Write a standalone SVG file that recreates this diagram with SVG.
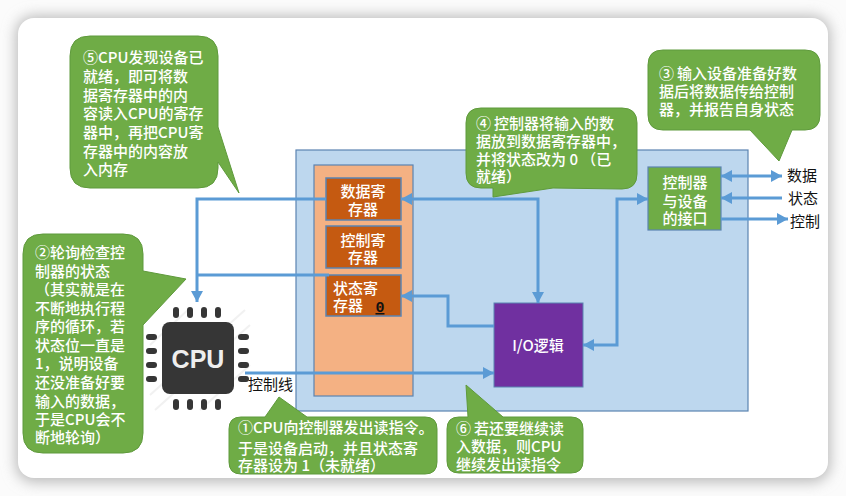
<svg xmlns="http://www.w3.org/2000/svg" width="846" height="496" viewBox="0 0 846 496">
<style>
text{font-family:"Noto Sans CJK SC","Noto Sans",sans-serif;font-size:15px;font-weight:500}
.w{fill:#fff}
.b{fill:#111;font-weight:400}
.m{text-anchor:middle}
.bub{fill:#6FAC46;stroke:#5f9a3c;stroke-width:1}
.box{stroke:#5B84B1;stroke-width:1.2}
.reg{fill:#C55A11;stroke:#5B84B1;stroke-width:1.5}
.con{fill:none;stroke:#5B9BD5;stroke-width:3}
.pin{fill:#363636}
.hatch{stroke:#f1f1f1;stroke-width:2}
</style>
<defs>
<filter id="sh" x="-5%" y="-8%" width="110%" height="116%"><feGaussianBlur stdDeviation="7"/></filter>
<marker id="ah" markerUnits="userSpaceOnUse" markerWidth="13" markerHeight="13" refX="11" refY="6" orient="auto-start-reverse"><path d="M0,0 L11,6 L0,12 Z" fill="#5B9BD5"/></marker>
</defs>
<rect width="846" height="496" fill="#fbfbfb"/>
<rect x="16" y="16" width="814" height="466" rx="18" fill="#b8b8b8" filter="url(#sh)"/>
<rect x="18" y="18" width="810" height="460" rx="16" fill="#fff"/>

<g id="io-module">
<rect class="box" x="296" y="150" width="452" height="261" fill="#BDD7EE"/>
<rect class="box" x="314" y="165" width="99" height="231" fill="#F4B183"/>
</g>

<g id="cpu">
<g class="hatch"><path d="M150,345 L190,308 M150,395 L245,310 M155,410 L250,325 M200,410 L250,365"/></g>
<rect x="162" y="322" width="72" height="72" rx="8" fill="#363636"/>
<g class="pin">
<rect x="173" y="307" width="6" height="11" rx="3"/><rect x="187" y="307" width="6" height="11" rx="3"/><rect x="201" y="307" width="6" height="11" rx="3"/><rect x="215" y="307" width="6" height="11" rx="3"/>
<rect x="173" y="399" width="6" height="11" rx="3"/><rect x="187" y="399" width="6" height="11" rx="3"/><rect x="201" y="399" width="6" height="11" rx="3"/><rect x="215" y="399" width="6" height="11" rx="3"/>
<rect x="146" y="334" width="11" height="6" rx="3"/><rect x="146" y="348" width="11" height="6" rx="3"/><rect x="146" y="362" width="11" height="6" rx="3"/><rect x="146" y="376" width="11" height="6" rx="3"/>
<rect x="238" y="334" width="11" height="6" rx="3"/><rect x="238" y="348" width="11" height="6" rx="3"/><rect x="238" y="362" width="11" height="6" rx="3"/><rect x="238" y="376" width="11" height="6" rx="3"/>
</g>
<text x="198" y="368" class="m" style="font-family:'Liberation Sans',sans-serif;font-size:25px;font-weight:bold" fill="#eee">CPU</text>
</g>

<g id="data-reg"><rect class="reg" x="326" y="178" width="75" height="42"/>
<text class="w m" x="363" y="197">数据寄</text><text class="w m" x="363" y="215">存器</text></g>
<g id="ctrl-reg"><rect class="reg" x="326" y="226" width="75" height="42"/>
<text class="w m" x="363" y="246">控制寄</text><text class="w m" x="363" y="263">存器</text></g>
<g id="status-reg"><rect class="reg" x="326" y="275" width="75" height="41"/>
<text class="w" x="333" y="294">状态寄</text><text class="w" x="333" y="311">存器</text>
<text x="380" y="312" class="m" style="font-family:'Liberation Mono',monospace;font-size:15px;font-weight:bold;text-decoration:underline" fill="#111">0</text></g>
<g id="io-logic"><rect x="494" y="303" width="89" height="84" fill="#7030A0" stroke="#5B84B1"/>
<text class="w m" x="538" y="351">I/O逻辑</text></g>
<g id="interface"><rect class="box" x="648" y="167" width="73" height="63" fill="#6FAC46"/>
<text class="w m" x="685" y="188">控制器</text><text class="w m" x="685" y="207">与设备</text><text class="w m" x="685" y="224">的接口</text></g>

<g id="connectors">
<path class="con" marker-end="url(#ah)" d="M326,199 H197 V302"/>
<path class="con" d="M329,275 H197"/>
<path class="con" marker-end="url(#ah)" d="M245,373 H494"/>
<path class="con" marker-start="url(#ah)" marker-end="url(#ah)" d="M401,199 H538 V303"/>
<path class="con" marker-end="url(#ah)" d="M494,326 H448 V296 H401"/>
<path class="con" marker-start="url(#ah)" marker-end="url(#ah)" d="M583,345 H617 V199 H648"/>
<path class="con" marker-start="url(#ah)" marker-end="url(#ah)" d="M721,176 H782"/>
<path class="con" marker-end="url(#ah)" d="M782,198 H721"/>
<path class="con" marker-end="url(#ah)" d="M721,219 H788"/>
</g>

<g id="labels">
<text class="b" x="787" y="181">数据</text>
<text class="b" x="788" y="204">状态</text>
<text class="b" x="790" y="227">控制</text>
<text class="b" x="248" y="390">控制线</text>
</g>

<g id="note5"><path class="bub" d="M90,36 H198 Q218,36 218,56 V127 L239,193 L218,162 V168 Q218,188 198,188 H90 Q70,188 70,168 V56 Q70,36 90,36 Z"/>
<text class="w" x="83" y="63">⑤CPU发现设备已</text><text class="w" x="83" y="82">就绪，即可将数</text><text class="w" x="83" y="101">据寄存器中的内</text><text class="w" x="83" y="119">容读入CPU的寄存</text><text class="w" x="83" y="138">器中，再把CPU寄</text><text class="w" x="83" y="157">存器中的内容放</text><text class="w" x="83" y="175">入内存</text></g>

<g id="note2"><path class="bub" d="M43,234 H123 Q143,234 143,254 V271 L186,279 L143,325 V433 Q143,453 123,453 H43 Q23,453 23,433 V254 Q23,234 43,234 Z"/>
<text class="w" x="35" y="258">②轮询检查控</text><text class="w" x="35" y="277">制器的状态</text><text class="w" x="35" y="295">（其实就是在</text><text class="w" x="35" y="314">不断地执行程</text><text class="w" x="35" y="332">序的循环，若</text><text class="w" x="35" y="351">状态位一直是</text><text class="w" x="35" y="369">1，说明设备</text><text class="w" x="35" y="388">还没准备好要</text><text class="w" x="35" y="407">输入的数据，</text><text class="w" x="35" y="425">于是CPU会不</text><text class="w" x="35" y="443">断地轮询）</text></g>

<g id="note4"><path class="bub" d="M481,108 H622 Q637,108 637,123 V174 Q637,189 622,189 L553,188 L493,197 V188 H481 Q466,188 466,173 V123 Q466,108 481,108 Z"/>
<text class="w" x="476" y="129">④<tspan dx="3">控制器将输入的数</tspan></text><text class="w" x="476" y="147">据放到数据寄存器中，</text><text class="w" x="476" y="165">并将状态改为 0 （已</text><text class="w" x="476" y="182">就绪）</text></g>

<g id="note3"><path class="bub" d="M663,50 H805 Q820,50 820,65 V115 Q820,130 805,130 H792 L779,161 L750,130 H663 Q648,130 648,115 V65 Q648,50 663,50 Z"/>
<text class="w" x="659" y="79">③<tspan dx="3">输入设备准备好数</tspan></text><text class="w" x="659" y="97">据后将数据传给控制</text><text class="w" x="659" y="115">器，并报告自身状态</text></g>

<g id="note1"><path class="bub" d="M241,417 H265 L279,397 L307,417 H425 Q437,417 437,429 V462 Q437,474 425,474 H241 Q229,474 229,462 V429 Q229,417 241,417 Z"/>
<text class="w" x="238" y="433">①CPU向控制器发出读指令。</text><text class="w" x="238" y="454">于是设备启动，并且状态寄</text><text class="w" x="238" y="471">存器设为 1（未就绪）</text></g>

<g id="note6"><path class="bub" d="M459,417 H468 L466,385 L503,417 H571 Q583,417 583,429 V461 Q583,473 571,473 H459 Q447,473 447,461 V429 Q447,417 459,417 Z"/>
<text class="w" x="456" y="434">⑥<tspan dx="3">若还要继续读</tspan></text><text class="w" x="456" y="452">入数据，则CPU</text><text class="w" x="456" y="470">继续发出读指令</text></g>
</svg>
